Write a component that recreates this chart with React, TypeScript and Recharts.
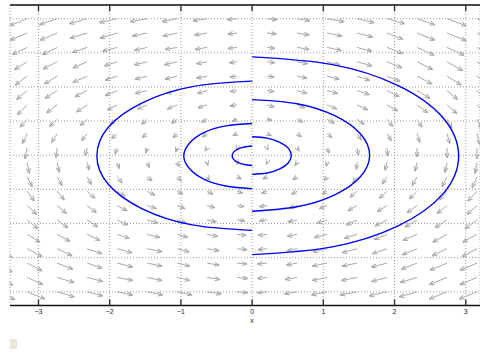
import { ComposedChart, Line, XAxis, YAxis, CartesianGrid, ReferenceLine } from 'recharts'

// grid of the direction field (data units)
const COL_X = [-3.579, -3.158, -2.737, -2.316, -1.895, -1.474, -1.053, -0.632, -0.211, 0.211, 0.632, 1.053, 1.474, 1.895, 2.316, 2.737, 3.158]
const ROW_Y = [4, 3.579, 3.158, 2.737, 2.316, 1.895, 1.474, 1.053, 0.632, 0.211, -0.211, -0.632, -1.053, -1.474, -1.895, -2.316, -2.737, -3.158, -3.579, -4]

// arrow components, in hundredths of a data unit (rows top -> bottom, cols left -> right)
const ARROW_U = [
  [-25, -25, -25, -25, -25, -24, -21, -20, -14, 14, 18, 24, 24, 25, 25, 27, 27],
  [-24, -24, -24, -24, -24, -21, -20, -18, -13, 13, 17, 21, 22, 22, 25, 27, 27],
  [-21, -21, -21, -21, -21, -18, -17, -17, -13, 11, 17, 20, 21, 22, 24, 24, 24],
  [-18, -18, -20, -20, -18, -18, -18, -15, -11, 11, 15, 18, 21, 21, 22, 22, 22],
  [-17, -17, -18, -20, -17, -17, -17, -15, -10, 10, 14, 17, 18, 18, 21, 20, 20],
  [-15, -15, -17, -17, -17, -17, -15, -14, -10, 10, 14, 15, 17, 17, 18, 15, 15],
  [-14, -14, -15, -15, -14, -14, -14, -13, -10, 10, 11, 14, 15, 15, 15, 14, 14],
  [-10, -10, -11, -10, -10, -8, -8, -8, -7, 7, 8, 10, 10, 8, 7, 7, 7],
  [-7, -7, -8, -8, -8, -7, -6, -7, -6, 6, 6, 7, 6, 6, 4, 4, 4],
  [-3, -3, -2, -3, -3, -2, -2, -3, -1, 1, 3, 3, 2, 1, 0, 0, 0],
  [3, 3, 3, 3, 3, 3, 3, 1, 1, -1, -3, -1, -1, -3, -3, -3, -3],
  [7, 7, 7, 6, 7, 7, 6, 4, 6, -6, -6, -4, -6, -7, -7, -7, -7],
  [10, 10, 10, 11, 11, 11, 8, 8, 8, -8, -8, -7, -10, -11, -11, -11, -13],
  [13, 13, 13, 13, 14, 13, 11, 11, 10, -11, -11, -11, -13, -14, -14, -14, -14],
  [15, 15, 15, 15, 15, 15, 13, 13, 11, -11, -13, -14, -15, -17, -17, -17, -17],
  [18, 18, 18, 18, 17, 18, 15, 15, 13, -13, -14, -18, -18, -18, -20, -20, -20],
  [21, 21, 21, 21, 21, 21, 17, 17, 14, -13, -14, -20, -21, -21, -21, -21, -21],
  [21, 21, 22, 21, 22, 21, 18, 17, 14, -14, -15, -21, -21, -22, -22, -24, -24],
  [22, 22, 24, 22, 22, 21, 18, 18, 15, -14, -17, -21, -22, -22, -24, -25, -24],
  [25, 25, 24, 22, 22, 22, 21, 20, 15, -14, -18, -22, -24, -25, -25, -25, -25],
]
const ARROW_V = [
  [-21, -21, -18, -15, -12, -9, -9, -6, -3, -3, -6, -9, -12, -15, -18, -21, -21],
  [-23, -21, -21, -15, -15, -9, -9, -6, -3, -3, -6, -9, -12, -18, -21, -23, -23],
  [-23, -21, -21, -15, -12, -9, -6, -6, -3, -3, -6, -9, -12, -18, -23, -23, -26],
  [-26, -23, -21, -18, -12, -9, -9, -6, -3, -3, -6, -9, -12, -18, -23, -26, -26],
  [-29, -26, -23, -18, -12, -9, -9, -6, -3, -3, -6, -9, -12, -15, -23, -26, -29],
  [-29, -26, -23, -18, -15, -9, -9, -9, -3, -3, -9, -9, -12, -18, -23, -26, -29],
  [-32, -29, -23, -21, -15, -12, -12, -9, -3, -6, -9, -12, -15, -18, -23, -26, -29],
  [-26, -23, -21, -18, -15, -15, -12, -9, -6, -3, -9, -12, -15, -21, -23, -26, -29],
  [-32, -29, -26, -21, -15, -12, -12, -9, -6, -6, -9, -12, -18, -21, -26, -29, -32],
  [-35, -32, -29, -23, -18, -15, -12, -9, -6, -6, -9, -15, -21, -23, -26, -29, -32],
  [-35, -32, -29, -23, -18, -15, -12, -9, -6, -6, -9, -12, -21, -23, -26, -29, -32],
  [-32, -29, -26, -23, -18, -12, -12, -9, -6, -6, -9, -12, -18, -21, -26, -29, -32],
  [-32, -29, -26, -21, -15, -12, -9, -9, -6, -6, -9, -9, -18, -21, -23, -26, -29],
  [-29, -26, -23, -21, -15, -9, -9, -6, -3, -3, -6, -9, -15, -18, -21, -23, -26],
  [-29, -26, -23, -21, -15, -9, -9, -6, -3, -3, -6, -9, -15, -18, -21, -23, -26],
  [-26, -23, -21, -18, -12, -9, -9, -6, -3, -3, -6, -9, -12, -15, -18, -23, -23],
  [-26, -23, -21, -15, -12, -9, -9, -6, -3, -3, -6, -9, -12, -15, -18, -21, -23],
  [-26, -23, -18, -15, -12, -9, -9, -6, -3, -3, -6, -9, -9, -12, -18, -21, -21],
  [-23, -21, -15, -12, -9, -9, -9, -6, -3, -3, -6, -9, -9, -12, -15, -21, -21],
  [-23, -21, -15, -12, -9, -9, -9, -6, -3, -3, -6, -9, -9, -12, -15, -21, -21],
]

// trajectory: half loops on each side of x = 0
const ARC_L1_X = [0, -0.11, -0.2, -0.26, -0.28, -0.26, -0.2, -0.11, 0]
const ARC_L1_Y = [0.27, 0.24, 0.18, 0.09, -0.02, -0.12, -0.21, -0.27, -0.3]
const ARC_R1_X = [0, 0.21, 0.39, 0.51, 0.55, 0.51, 0.39, 0.21, 0]
const ARC_R1_Y = [0.54, 0.5, 0.38, 0.2, -0.01, -0.22, -0.4, -0.52, -0.56]
const ARC_L2_X = [0, -0.37, -0.68, -0.88, -0.96, -0.88, -0.68, -0.37, 0]
const ARC_L2_Y = [0.93, 0.86, 0.66, 0.35, -0.02, -0.39, -0.7, -0.9, -0.98]
const ARC_R2_X = [0, 0.63, 1.16, 1.52, 1.65, 1.52, 1.16, 0.63, 0]
const ARC_R2_Y = [1.63, 1.51, 1.16, 0.63, 0, -0.63, -1.16, -1.51, -1.64]
const ARC_L3_X = [0, -0.84, -1.55, -2.02, -2.18, -2.02, -1.55, -0.84, 0]
const ARC_L3_Y = [2.17, 2.01, 1.53, 0.82, -0.02, -0.85, -1.56, -2.04, -2.2]
const ARC_R3_X = [0, 1.11, 2.05, 2.68, 2.9, 2.68, 2.05, 1.11, 0]
const ARC_R3_Y = [2.88, 2.66, 2.04, 1.1, -0.02, -1.13, -2.07, -2.69, -2.91]

const X_TICKS = [-3, -2, -1, 0, 1, 2, 3]
const Y_TICKS = [-4, -3, -2, -1, 0, 1, 2, 3, 4]

const arcs = [
  [ARC_L1_X, ARC_L1_Y], [ARC_R1_X, ARC_R1_Y],
  [ARC_L2_X, ARC_L2_Y], [ARC_R2_X, ARC_R2_Y],
  [ARC_L3_X, ARC_L3_Y], [ARC_R3_X, ARC_R3_Y],
].map(([xs, ys]) => xs.map((x, i) => ({ x, y: ys[i] })))

const arrows = ROW_Y.flatMap((y, r) =>
  COL_X.map((x, c) => ({ x, y, x2: x + ARROW_U[r][c] / 100, y2: y + ARROW_V[r][c] / 100 }))
)

const fmt = (v: number) => (v < 0 ? `\u2212${Math.abs(v)}` : `${v}`)
const FONT = 'Liberation Sans, Arial, sans-serif'

const ArrowShape = (p: any) => (
  <line x1={p.x1} y1={p.y1} x2={p.x2} y2={p.y2} clipPath={p.clipPath}
    stroke="#a8a8a8" strokeWidth={1} markerEnd="url(#fieldHead)" />
)

export default function App() {
  return (
    <div style={{ position: 'absolute', left: 0, top: 0, width: 480, height: 356, overflow: 'hidden', background: '#fff' }}>
      <svg width={0} height={0} style={{ position: 'absolute' }}>
        <defs>
          <marker id="fieldHead" markerWidth={8} markerHeight={8} refX={0} refY={0}
            orient="auto" markerUnits="userSpaceOnUse" overflow="visible">
            <path d="M0,0 L-5,-2 M0,0 L-5,2" stroke="#a8a8a8" strokeWidth={1} fill="none" />
          </marker>
        </defs>
      </svg>
      <ComposedChart width={480} height={356} margin={{ top: 0, right: 0, left: 10, bottom: 38.5 }}>
        <CartesianGrid stroke="#9a9a9a" strokeDasharray="1 2" />
        <XAxis xAxisId="top" orientation="top" dataKey="x" type="number" domain={[-3.4, 3.2]}
          ticks={X_TICKS} allowDataOverflow height={5} tickSize={-6} tickFormatter={() => ''}
          axisLine={{ stroke: '#111', strokeWidth: 1.6 }} tickLine={{ stroke: '#333', strokeWidth: 1.4 }} />
        <XAxis dataKey="x" type="number" domain={[-3.4, 3.2]} ticks={X_TICKS} allowDataOverflow
          height={12} tickSize={-6} tickMargin={9.5} tickFormatter={fmt}
          tick={{ fontSize: 7, fill: '#222', fontFamily: FONT }}
          axisLine={{ stroke: '#111', strokeWidth: 1.6 }} tickLine={{ stroke: '#333', strokeWidth: 1.4 }}
          label={{ value: 'x', position: 'bottom', offset: 0.5, dx: 7, fontSize: 7, fill: '#222', fontFamily: FONT }} />
        <YAxis type="number" domain={[-4.4, 4.4]} ticks={Y_TICKS} allowDataOverflow hide />
        {arrows.map((a, i) => (
          <ReferenceLine key={`a${i}`} segment={[{ x: a.x, y: a.y }, { x: a.x2, y: a.y2 }]}
            ifOverflow="hidden" shape={ArrowShape} />
        ))}
        {arcs.map((d, i) => (
          <Line key={`arc${i}`} data={d} dataKey="y" type="natural" stroke="#0000ff" strokeWidth={1.4}
            dot={false} activeDot={false} isAnimationActive={false} />
        ))}
      </ComposedChart>
      <div style={{ position: 'absolute', left: 10, top: 339, width: 7, height: 10, background: '#ebe7d7' }} />
    </div>
  )
}
